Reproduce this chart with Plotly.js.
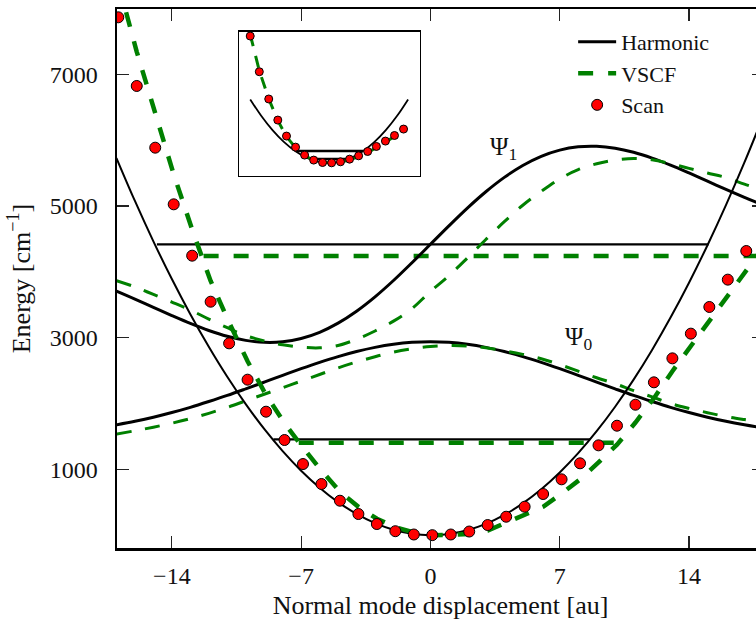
<!DOCTYPE html>
<html>
<head>
<meta charset="utf-8">
<script src="https://cdn.plot.ly/plotly-3.0.1.min.js"></script>
<style>
html,body{margin:0;padding:0;overflow:hidden;background:#fff;}
#chart{width:766px;height:625px;}
</style>
</head>
<body>
<div id="chart"></div>
<script>
// ---- data ----
const xGrid = [-17,-16,-15,-14,-13,-12,-11,-10,-9,-8,-7,-6,-5,-4,-3,-2,-1,0,1,2,3,4,5,6,7,8,9,10,11,12,13,14,15,16,17,18];
const harmonicPot = [5727,5075,4462,3889,3355,2861,2405,1990,1613,1277,979,721,502,323,183,83,22,0,18,75,171,307,483,697,952,1245,1578,1950,2362,2813,3304,3834,4403,5012,5660,6347];
const harmonicPsi0 = [1676,1729,1791,1862,1941,2029,2122,2222,2324,2427,2528,2624,2712,2789,2852,2899,2928,2938,2928,2899,2852,2789,2712,2624,2528,2427,2324,2222,2122,2029,1941,1862,1791,1729,1676,1630];
const harmonicPsi1 = [3705,3584,3458,3334,3215,3108,3020,2958,2929,2937,2987,3081,3220,3401,3619,3867,4137,4417,4697,4967,5215,5433,5614,5753,5847,5897,5905,5876,5814,5726,5619,5500,5376,5250,5129,5015];
const vscfPsi0 = [1535,1585,1640,1700,1770,1850,1940,2040,2140,2240,2340,2440,2540,2630,2710,2780,2830,2865,2878,2872,2845,2800,2745,2680,2590,2490,2390,2300,2195,2100,2000,1925,1860,1800,1755,1715];
const vscfPsi1 = [3865,3770,3655,3540,3420,3280,3150,3030,2950,2890,2855,2845,2880,2975,3100,3250,3440,3700,3940,4210,4490,4760,5010,5220,5410,5550,5640,5695,5720,5700,5640,5570,5500,5430,5330,5240];

const scanX = [-16.9,-15.9,-14.9,-13.9,-12.9,-11.9,-10.9,-9.9,-8.9,-7.9,-6.9,-5.9,-4.9,-3.9,-2.9,-1.9,-0.9,0.1,1.1,2.1,3.1,4.1,5.1,6.1,7.1,8.1,9.1,10.1,11.1,12.1,13.1,14.1,15.1,16.1,17.1];
const scanE = [7864,6821,5884,5024,4244,3545,2913,2361,1875,1445,1080,777,523,321,169,60,10,0,10,55,154,280,432,625,848,1091,1364,1662,1981,2321,2685,3060,3465,3880,4315];

const vscfX = [-16.9,-15.9,-14.9,-13.9,-12.9,-11.9,-10.9,-9.9,-8.9,-7.9,-6.9,-5.9,-4.9,-3.9,-2.9,-1.9,-0.9,0.1,1.1,2.1,3.1,4.1,5.1,6.1,7.1,8.1,9.1,10.1,11.1,12.1,13.1,14.1,15.1,16.1,17.1,18.1];
const vscfPot = [8380,7340,6410,5480,4640,3860,3230,2640,2130,1700,1330,980,660,430,250,120,40,0,5,17,70,190,295,430,630,847,1104,1374,1710,2080,2490,2870,3260,3650,4020,4400];

const harmLevelE = [1456, 4417];
const harmLevelLeft = [-8.5, -14.81];
const harmLevelRight = [8.65, 15.06];
const vscfLevelE = [1405, 4239];
const vscfLevelLeft = [-7.13, -12.28];
const vscfLevelRight = [10.18, 17.9];

// inset
const insetX = [-20.9,-18.5,-16.0,-13.6,-11.3,-8.9,-6.5,-4.1,-1.75,0.65,3.0,5.4,7.8,10.2,12.5,14.9,17.3,19.7];
const insetScan = [17200,12360,8660,5800,3630,2130,1050,370,40,0,140,500,950,1540,2220,2950,3710,4580];
const insetVscf = [17400,12500,8700,5750,3550,2050,1000,330,30,0,80,400,820,1380,2050,2800,3600,4500];
const insetHarmX = [-20.9,-18,-15,-12,-9,-6,-3,0,3,6,9,12,15,18,20.9];
const insetHarm = [8605,6383,4433,2837,1596,709,177,0,177,709,1596,2837,4433,6383,8605];
const insetLevelE = [1590, 503];
const insetLevelLeft = [-8.6, -4.4];
const insetLevelRight = [9.0, 6.2];

const xTickVals = [-14, -7, 0, 7, 14];
const xTickText = ['\u221214', '\u22127', '0', '7', '14'];
const yTickVals = [1000, 3000, 5000, 7000];
const yTickText = ['1000', '3000', '5000', '7000'];

const psiLabels = [{text: '\u03A8<sub>1</sub>', x: 3.13, y: 5879}, {text: '\u03A8<sub>0</sub>', x: 7.19, y: 2980}];

// ---- build ----
const FONT = '"Liberation Serif", "Times New Roman", serif';
const GREEN = '#008000';
const traces = [];

function levelTraces(E, L, R, line, xa, ya) {
  E.forEach((e, i) => {
    traces.push({x: [L[i], R[i]], y: [e, e], mode: 'lines', line: line, showlegend: false, xaxis: xa, yaxis: ya, hoverinfo: 'skip'});
  });
}

levelTraces(harmLevelE, harmLevelLeft, harmLevelRight, {color: 'black', width: 2.3}, 'x', 'y');
levelTraces(vscfLevelE, vscfLevelLeft, vscfLevelRight, {color: GREEN, width: 4.5, dash: '15px,15px'}, 'x', 'y');

traces.push({x: xGrid, y: harmonicPsi0, mode: 'lines', name: 'Harmonic', line: {color: 'black', width: 3, shape: 'spline'}, showlegend: true, legendrank: 1});
traces.push({x: xGrid, y: harmonicPsi1, mode: 'lines', line: {color: 'black', width: 3, shape: 'spline'}, showlegend: false});
traces.push({x: xGrid, y: vscfPsi0, mode: 'lines', line: {color: GREEN, width: 3, dash: '15px,14px', shape: 'spline'}, showlegend: false});
traces.push({x: xGrid, y: vscfPsi1, mode: 'lines', line: {color: GREEN, width: 3, dash: '15px,14px', shape: 'spline'}, showlegend: false});
traces.push({x: xGrid, y: harmonicPot, mode: 'lines', line: {color: 'black', width: 2, shape: 'spline'}, showlegend: false});
traces.push({x: vscfX, y: vscfPot, mode: 'lines', name: 'VSCF', line: {color: GREEN, width: 4.5, dash: '15px,15px'}, showlegend: true, legendrank: 2});
traces.push({x: scanX, y: scanE, mode: 'markers', name: 'Scan', marker: {color: 'red', size: 11, line: {color: 'black', width: 1}}, showlegend: true, legendrank: 3});

// inset traces
traces.push({x: insetHarmX, y: insetHarm, mode: 'lines', line: {color: 'black', width: 1.8, shape: 'spline'}, showlegend: false, xaxis: 'x2', yaxis: 'y2'});
levelTraces(insetLevelE, insetLevelLeft, insetLevelRight, {color: 'black', width: 2.5}, 'x2', 'y2');
traces.push({x: insetX, y: insetVscf, mode: 'lines', line: {color: GREEN, width: 3, dash: '12px,10px'}, showlegend: false, xaxis: 'x2', yaxis: 'y2'});
traces.push({x: insetX, y: insetScan, mode: 'markers', marker: {color: 'red', size: 8, line: {color: 'black', width: 1}}, showlegend: false, xaxis: 'x2', yaxis: 'y2'});

const layout = {
  width: 766, height: 625,
  margin: {l: 117, r: 2, t: 9, b: 77, pad: 0},
  paper_bgcolor: 'white', plot_bgcolor: 'white',
  font: {family: FONT, color: 'black', size: 22},
  showlegend: true,
  legend: {x: 0.705, y: 0.978, xanchor: 'left', yanchor: 'top', bgcolor: 'rgba(0,0,0,0)', borderwidth: 0,
           font: {family: FONT, size: 22, color: '#111'}, itemwidth: 38, tracegroupgap: 0},
  xaxis: {
    range: [-16.97, 18.06], domain: [0, 1], anchor: 'y',
    tickvals: xTickVals, ticktext: xTickText,
    ticks: 'inside', ticklen: 12, tickwidth: 1.2, tickcolor: '#222',
    showline: true, linewidth: 2.5, linecolor: 'black', mirror: 'ticks',
    showgrid: false, zeroline: false,
    tickfont: {family: FONT, size: 24, color: '#111'}, ticklabelstandoff: 5,
    title: {text: 'Normal mode displacement [au]', font: {family: FONT, size: 26, color: '#111'}, standoff: 8}
  },
  yaxis: {
    range: [-195, 7990], domain: [0, 1], anchor: 'x',
    tickvals: yTickVals, ticktext: yTickText,
    ticks: 'inside', ticklen: 12, tickwidth: 1.2, tickcolor: '#222',
    showline: true, linewidth: 2.5, linecolor: 'black', mirror: 'ticks',
    showgrid: false, zeroline: false,
    tickfont: {family: FONT, size: 24, color: '#111'}, ticklabelstandoff: 12,
    title: {text: 'Energy [cm<sup>\u22121</sup>]', font: {family: FONT, size: 26, color: '#111'}, standoff: 12}
  },
  xaxis2: {domain: [0.189, 0.468], anchor: 'y2', range: [-23.8, 24.0], showline: true, mirror: true, linewidth: 1.3, linecolor: 'black',
           showticklabels: false, ticks: '', showgrid: false, zeroline: false},
  yaxis2: {domain: [0.691, 0.958], anchor: 'x2', range: [-1726, 17800], showline: true, mirror: true, linewidth: 1.3, linecolor: 'black',
           showticklabels: false, ticks: '', showgrid: false, zeroline: false},
  annotations: psiLabels.map(p => ({text: p.text, x: p.x, y: p.y, xref: 'x', yref: 'y', xanchor: 'left', yanchor: 'middle', showarrow: false,
    font: {family: FONT, size: 25, color: '#111'}}))
};

Plotly.newPlot('chart', traces, layout, {staticPlot: true, displayModeBar: false});
</script>
</body>
</html>
